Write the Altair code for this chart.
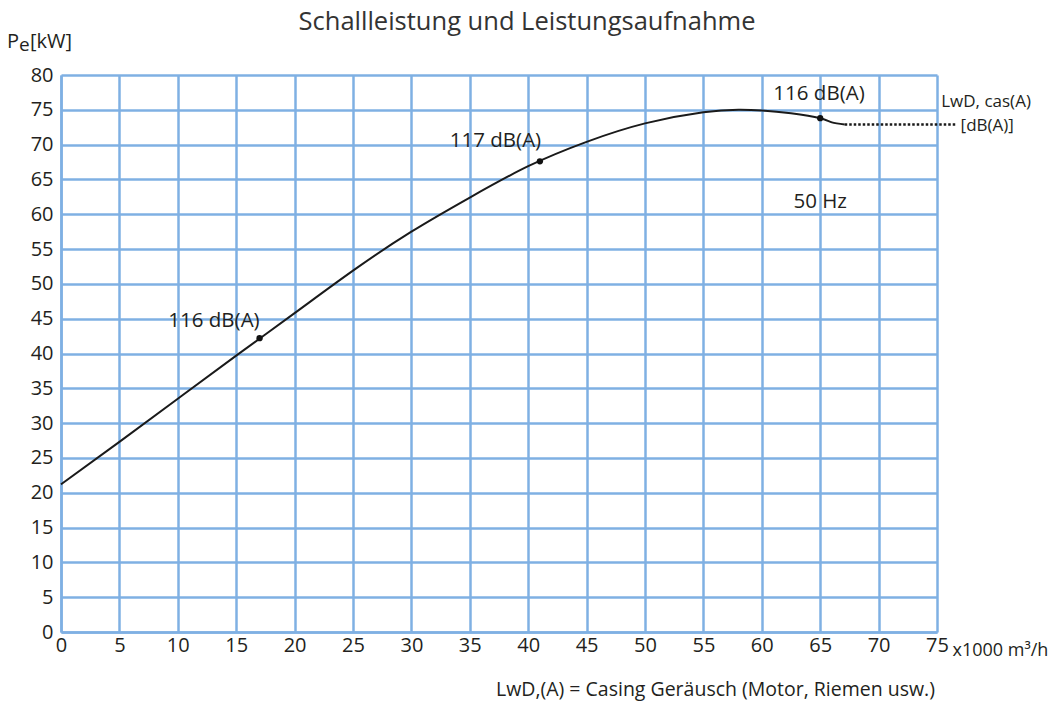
import altair as alt
import pandas as pd

# Curve (Leistungsaufnahme)
flow = [0, 5, 10, 15, 20, 25, 30, 35, 40, 45, 50, 55, 58, 60, 62.5, 65, 66, 67.1]
power = [21.2, 27.3, 33.5, 39.7, 45.8, 51.9, 57.5, 62.4, 66.9, 70.4, 73.05, 74.65, 75.0, 74.9, 74.5, 73.8, 73.2, 72.9]

# Marked operating points
dot_flow = [17, 41, 65]
dot_power = [42.2, 67.6, 73.8]

# Dotted extension
dotted_flow = [67.1, 76.7]
dotted_power = [72.9, 72.9]

# Annotations
label_text = ["116 dB(A)", "117 dB(A)", "116 dB(A)", "50 Hz"]
label_flow = [13.1, 37.2, 64.9, 65.0]
label_power = [44.6, 70.5, 77.3, 61.8]

side_text = ["LwD, cas(A)", "[dB(A)]"]
side_flow = [79.2, 79.3]
side_power = [76.1, 72.7]

x_ticks = list(range(0, 80, 5))
y_ticks = list(range(0, 85, 5))

FONT = "Open Sans"
GRID = "#7fb0e3"
TXT = "#231f20"

curve_df = pd.DataFrame({"flow": flow, "power": power})
dot_df = pd.DataFrame({"flow": dot_flow, "power": dot_power})
dotted_df = pd.DataFrame({"flow": dotted_flow, "power": dotted_power})
label_df = pd.DataFrame({"flow": label_flow, "power": label_power, "text": label_text})
side_df = pd.DataFrame({"flow": side_flow, "power": side_power, "text": side_text})

xscale = alt.Scale(domain=[0, 75], nice=False, zero=False)
yscale = alt.Scale(domain=[0, 80], nice=False, zero=False)

xaxis = alt.Axis(
    values=x_ticks, tickCount=16, grid=True, gridColor=GRID, gridWidth=2.5, gridOpacity=1,
    domainColor=GRID, domainWidth=2.5, ticks=False,
    labelFont=FONT, labelFontSize=20, labelColor=TXT, labelPadding=3,
    labelFlush=False, labelOverlap=False,
    title="x1000 m³/h", titleFont=FONT, titleFontSize=18, titleFontWeight="normal",
    titleColor=TXT, titleX=891, titleY=18, titleAlign="left", titleBaseline="middle",
    titleAnchor="start",
)
yaxis = alt.Axis(
    values=y_ticks, tickCount=17, grid=True, gridColor=GRID, gridWidth=2.5, gridOpacity=1,
    domainColor=GRID, domainWidth=2.5, ticks=False,
    labelFont=FONT, labelFontSize=20, labelColor=TXT, labelPadding=8,
    labelFlush=False, labelOverlap=False, title=None,
)

X = alt.X("flow:Q", scale=xscale, axis=xaxis)
Y = alt.Y("power:Q", scale=yscale, axis=yaxis)

curve = alt.Chart(curve_df).mark_line(
    color="#1a1a1a", strokeWidth=2, interpolate="natural", clip=False
).encode(x=X, y=Y)

dotted = alt.Chart(dotted_df).mark_line(
    color="#1a1a1a", strokeWidth=2.5, strokeDash=[2.5, 2], clip=False
).encode(x=X, y=Y)

dots = alt.Chart(dot_df).mark_circle(color="#111111", size=40, opacity=1).encode(x=X, y=Y)

labels = alt.Chart(label_df).mark_text(
    font=FONT, fontSize=20.5, color=TXT, align="center", baseline="middle"
).encode(x=X, y=Y, text="text:N")

side = alt.Chart(side_df).mark_text(
    font=FONT, fontSize=17, color=TXT, align="center", baseline="middle", clip=False
).encode(x=X, y=Y, text="text:N")

# Texts placed around the plot (title, y-axis title with subscript, footer note)
title_mark = alt.Chart(pd.DataFrame({"t": ["Schallleistung und Leistungsaufnahme"]})).mark_text(
    font=FONT, fontSize=25.5, color="#333333", align="center", baseline="alphabetic"
).encode(x=alt.value(466), y=alt.value(-45), text="t:N")

ytitle_p = alt.Chart(pd.DataFrame({"t": ["P"]})).mark_text(
    font=FONT, fontSize=20, color=TXT, align="left", baseline="alphabetic"
).encode(x=alt.value(-54), y=alt.value(-27), text="t:N")
ytitle_e = alt.Chart(pd.DataFrame({"t": ["e"]})).mark_text(
    font=FONT, fontSize=19, color=TXT, align="left", baseline="alphabetic"
).encode(x=alt.value(-42), y=alt.value(-24), text="t:N")
ytitle_u = alt.Chart(pd.DataFrame({"t": ["[kW]"]})).mark_text(
    font=FONT, fontSize=20, color=TXT, align="left", baseline="alphabetic"
).encode(x=alt.value(-31), y=alt.value(-27), text="t:N")

footer = alt.Chart(pd.DataFrame({"t": ["LwD,(A) = Casing Geräusch (Motor, Riemen usw.)"]})).mark_text(
    font=FONT, fontSize=19.5, color=TXT, align="right", baseline="middle"
).encode(x=alt.value(874), y=alt.value(615), text="t:N")

chart = alt.layer(
    curve, dotted, dots, labels, side, title_mark, ytitle_p, ytitle_e, ytitle_u, footer
).properties(
    width=876,
    height=557,
    autosize=alt.AutoSizeParams(type="none"),
    padding={"left": 53, "top": 67, "right": 119, "bottom": 72},
).configure_view(stroke=None)

chart.save("out.html", embed_options={"renderer": "svg", "actions": False})
